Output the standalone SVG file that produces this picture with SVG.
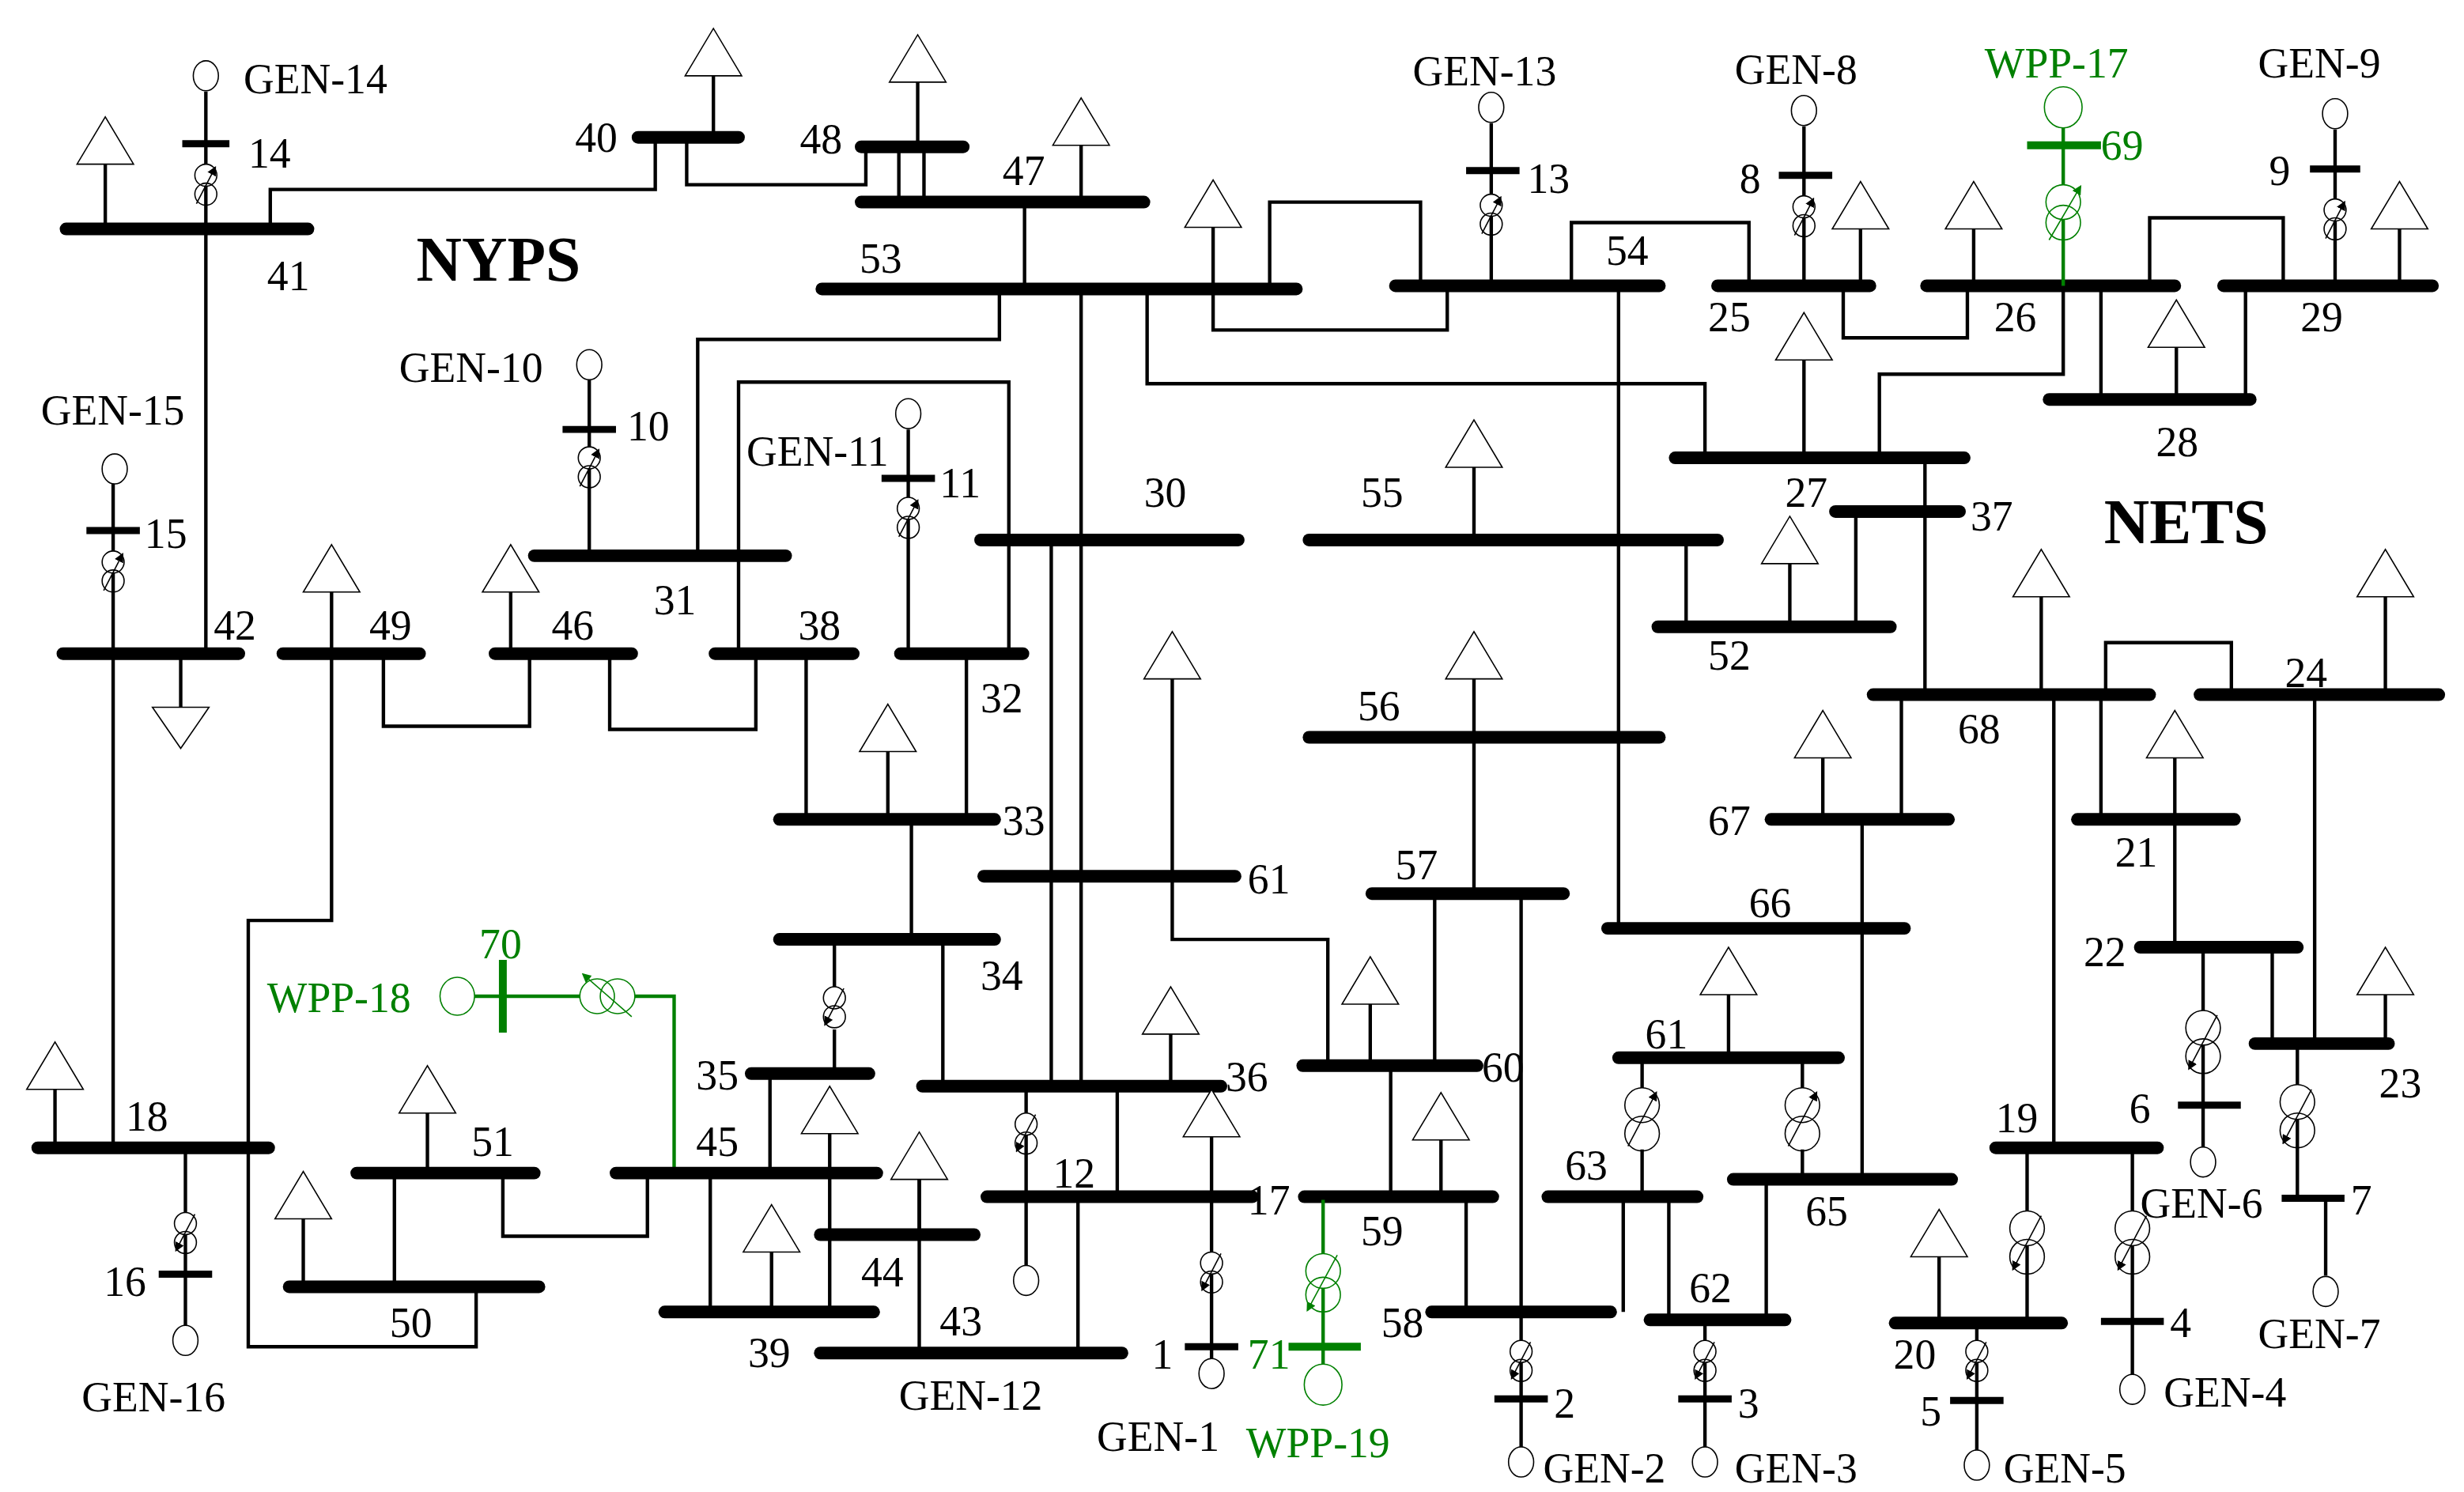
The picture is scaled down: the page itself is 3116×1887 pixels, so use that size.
<svg xmlns="http://www.w3.org/2000/svg" width="3116" height="1887" viewBox="0 0 3116 1887">
<style>
.b{stroke:#000;stroke-width:8;stroke-linecap:round}
.sb{stroke:#000;stroke-width:4.5}
.l{stroke:#000;stroke-width:2.2;fill:none}
.g{stroke:#008000;stroke-width:2.2;fill:none}
.gb{stroke:#008000;stroke-width:5}
text{font-family:"Liberation Serif","Times New Roman",serif;font-size:27px;fill:#000}
.gt{fill:#008000}
.big{font-size:40px;font-weight:bold}
</style>
<defs>
<marker id="ah" markerWidth="6" markerHeight="6" refX="5" refY="3" orient="auto" markerUnits="userSpaceOnUse"><path d="M0,0 L6,3 L0,6 z" fill="#000"/></marker>
<marker id="ahg" markerWidth="6" markerHeight="6" refX="5" refY="3" orient="auto" markerUnits="userSpaceOnUse"><path d="M0,0 L6,3 L0,6 z" fill="#008000"/></marker>
<g id="ld"><polygon points="-18,0 18,0 0,-30" fill="#fff" stroke="#000" stroke-width="0.8"/></g>
<g id="tx"><circle cx="0" cy="-6" r="7" fill="#fff" stroke="#000" stroke-width="0.8"/><circle cx="0" cy="6" r="7" fill="none" stroke="#000" stroke-width="0.8"/><line x1="-6" y1="12" x2="6" y2="-11" stroke="#000" stroke-width="0.8" marker-end="url(#ah)"/></g>
<g id="txd"><circle cx="0" cy="-6" r="7" fill="#fff" stroke="#000" stroke-width="0.8"/><circle cx="0" cy="6" r="7" fill="none" stroke="#000" stroke-width="0.8"/><line x1="6" y1="-12" x2="-6" y2="11" stroke="#000" stroke-width="0.8" marker-end="url(#ah)"/></g>
<g id="txL"><circle cx="0" cy="-9" r="11" fill="#fff" stroke="#000" stroke-width="0.8"/><circle cx="0" cy="9" r="11" fill="none" stroke="#000" stroke-width="0.8"/><line x1="-9" y1="17" x2="9" y2="-17" stroke="#000" stroke-width="0.8" marker-end="url(#ah)"/></g>
<g id="txLd"><circle cx="0" cy="-9" r="11" fill="#fff" stroke="#000" stroke-width="0.8"/><circle cx="0" cy="9" r="11" fill="none" stroke="#000" stroke-width="0.8"/><line x1="9" y1="-17" x2="-9" y2="17" stroke="#000" stroke-width="0.8" marker-end="url(#ah)"/></g>
<g id="gn"><ellipse cx="0" cy="0" rx="8" ry="9.5" fill="#fff" stroke="#000" stroke-width="0.8"/></g>
</defs>
<rect width="3116" height="1887" fill="#fff"/>
<g transform="scale(1.9872,1.9968)">
<g id="connectors">
<path class="l" d="M172,145 V120 H417 V87"/>
<path class="l" d="M437,87 V117 H551 V93"/>
<path class="l" d="M572,93 V128 M588,93 V128"/>
<path class="l" d="M652,128 V183"/>
<path class="l" d="M636,183 V215 H444 V352"/>
<path class="l" d="M688,183 V688 M669,342 V688"/>
<path class="l" d="M470,414 V242 H642 V414"/>
<path class="l" d="M730,183 V243 H1085 V290"/>
<path class="l" d="M772,183 V209 H921 V181"/>
<path class="l" d="M808,183 V128 H904 V181"/>
<path class="l" d="M1000,181 V141 H1113 V181"/>
<path class="l" d="M1030,181 V588"/>
<path class="l" d="M1173,181 V214 H1252 V181"/>
<path class="l" d="M1313,181 V237 H1196 V290"/>
<path class="l" d="M1225,290 V440"/>
<path class="l" d="M1181,324 V397"/>
<path class="l" d="M1337,181 V253 M1429,253 V181"/>
<path class="l" d="M1368,181 V138 H1453 V181"/>
<path class="l" d="M1073,342 V397"/>
<path class="l" d="M938,342 V296 M938,467 V566"/>
<path class="l" d="M746,430 V595 H845 V675"/>
<path class="l" d="M913,566 V675 M968,566 V831"/>
<path class="l" d="M885,675 V758 M933,758 V831"/>
<path class="l" d="M711,688 V758 M686,758 V857"/>
<path class="l" d="M1033,758 V831 M1062,758 V836"/>
<path class="l" d="M1124,747 V836 M1185,747 V519"/>
<path class="l" d="M1210,519 V440"/>
<path class="l" d="M1340,440 V407 H1420 V440"/>
<path class="l" d="M1337,440 V519 M1307,440 V727"/>
<path class="l" d="M1473,440 V661 M1384,519 V600 M1446,600 V661"/>
<path class="l" d="M131,145 V414 M72,414 V727"/>
<path class="l" d="M211,414 V583 H158 V853 H303 V815"/>
<path class="l" d="M244,414 V460 H337 V414"/>
<path class="l" d="M388,414 V462 H481 V414"/>
<path class="l" d="M513,414 V519 M615,414 V519"/>
<path class="l" d="M580,519 V595 M600,595 V688"/>
<path class="l" d="M490,680 V743 M452,743 V831 M528,743 V831"/>
<path class="l" d="M412,743 V783 H320 V743"/>
<path class="l" d="M251,743 V815 M585,747 V857"/>
<path class="l" d="M531,595 V625 M531,652 V680"/>
<path class="l" d="M1045,670 V690 M1045,728 V758 M1147,670 V690 M1147,728 V747"/>
<path class="g" d="M404,631 H429 V743"/>
</g>
<g id="bus41"><line class="b" x1="42" y1="145" x2="196" y2="145"/><line class="l" x1="67" y1="145" x2="67" y2="104"/><use href="#ld" x="67" y="104"/><text x="170" y="184">41</text></g>
<g id="gen14"><line class="l" x1="131" y1="58" x2="131" y2="145"/><line class="sb" x1="116" y1="91" x2="146" y2="91"/><use href="#tx" x="131" y="117"/><use href="#gn" x="131" y="48"/><text x="158" y="106">14</text><text x="155" y="59">GEN-14</text></g>
<g id="bus40"><line class="b" x1="406" y1="87" x2="470" y2="87"/><line class="l" x1="454" y1="87" x2="454" y2="48"/><use href="#ld" x="454" y="48"/><text x="366" y="96">40</text></g>
<g id="bus48"><line class="b" x1="548" y1="93" x2="613" y2="93"/><line class="l" x1="584" y1="93" x2="584" y2="52"/><use href="#ld" x="584" y="52"/><text x="509" y="97">48</text></g>
<g id="bus47"><line class="b" x1="548" y1="128" x2="728" y2="128"/><line class="l" x1="688" y1="128" x2="688" y2="92"/><use href="#ld" x="688" y="92"/><text x="638" y="117">47</text></g>
<g id="bus53"><line class="b" x1="523" y1="183" x2="825" y2="183"/><line class="l" x1="772" y1="183" x2="772" y2="144"/><use href="#ld" x="772" y="144"/><text x="547" y="173">53</text></g>
<g id="bus54"><line class="b" x1="888" y1="181" x2="1056" y2="181"/><text x="1022" y="168">54</text></g>
<g id="gen13"><line class="l" x1="949" y1="78" x2="949" y2="181"/><line class="sb" x1="933" y1="108" x2="967" y2="108"/><use href="#tx" x="949" y="136"/><use href="#gn" x="949" y="68"/><text x="972" y="122">13</text><text x="899" y="54">GEN-13</text></g>
<g id="bus25"><line class="b" x1="1093" y1="181" x2="1190" y2="181"/><line class="l" x1="1184" y1="181" x2="1184" y2="145"/><use href="#ld" x="1184" y="145"/><text x="1087" y="210">25</text></g>
<g id="gen8"><line class="l" x1="1148" y1="80" x2="1148" y2="181"/><line class="sb" x1="1132" y1="111" x2="1166" y2="111"/><use href="#tx" x="1148" y="137"/><use href="#gn" x="1148" y="70"/><text x="1107" y="122">8</text><text x="1104" y="53">GEN-8</text></g>
<g id="bus26"><line class="b" x1="1226" y1="181" x2="1384" y2="181"/><line class="l" x1="1256" y1="181" x2="1256" y2="145"/><use href="#ld" x="1256" y="145"/><text x="1269" y="210">26</text></g>
<g id="wpp17"><line class="g" x1="1313" y1="80" x2="1313" y2="181"/><line class="gb" x1="1290" y1="92" x2="1337" y2="92"/><circle cx="1313" cy="128" r="11" fill="#fff" stroke="#008000" stroke-width="0.8"/><circle cx="1313" cy="141" r="11" fill="none" stroke="#008000" stroke-width="0.8"/><line x1="1304" y1="152" x2="1324" y2="118" stroke="#008000" stroke-width="0.8" marker-end="url(#ahg)"/><ellipse cx="1313" cy="68" rx="12" ry="13" fill="#fff" stroke="#008000" stroke-width="0.8"/><text class="gt" x="1337" y="101">69</text><text class="gt" x="1263" y="49">WPP-17</text></g>
<g id="bus29"><line class="b" x1="1415" y1="181" x2="1548" y2="181"/><line class="l" x1="1527" y1="181" x2="1527" y2="145"/><use href="#ld" x="1527" y="145"/><text x="1464" y="210">29</text></g>
<g id="gen9"><line class="l" x1="1486" y1="82" x2="1486" y2="181"/><line class="sb" x1="1470" y1="107" x2="1502" y2="107"/><use href="#tx" x="1486" y="139"/><use href="#gn" x="1486" y="72"/><text x="1444" y="117">9</text><text x="1437" y="49">GEN-9</text></g>
<g id="bus28"><line class="b" x1="1304" y1="253" x2="1432" y2="253"/><line class="l" x1="1385" y1="253" x2="1385" y2="220"/><use href="#ld" x="1385" y="220"/><text x="1372" y="289">28</text></g>
<g id="bus27"><line class="b" x1="1066" y1="290" x2="1250" y2="290"/><line class="l" x1="1148" y1="290" x2="1148" y2="228"/><use href="#ld" x="1148" y="228"/><text x="1136" y="321">27</text></g>
<g id="bus37"><line class="b" x1="1168" y1="324" x2="1247" y2="324"/><text x="1254" y="336">37</text></g>
<g id="bus55"><line class="b" x1="833" y1="342" x2="1093" y2="342"/><use href="#ld" x="938" y="296"/><text x="866" y="321">55</text></g>
<g id="bus52"><line class="b" x1="1055" y1="397" x2="1203" y2="397"/><line class="l" x1="1139" y1="397" x2="1139" y2="357"/><use href="#ld" x="1139" y="357"/><text x="1087" y="424">52</text></g>
<g id="bus30"><line class="b" x1="624" y1="342" x2="788" y2="342"/><text x="728" y="321">30</text></g>
<g id="bus56"><line class="b" x1="833" y1="467" x2="1056" y2="467"/><line class="l" x1="938" y1="467" x2="938" y2="430"/><use href="#ld" x="938" y="430"/><text x="864" y="456">56</text></g>
<g id="bus61a"><line class="b" x1="626" y1="555" x2="786" y2="555"/><use href="#ld" x="746" y="430"/><text x="794" y="566">61</text></g>
<g id="bus57"><line class="b" x1="873" y1="566" x2="995" y2="566"/><text x="888" y="557">57</text></g>
<g id="bus60"><line class="b" x1="829" y1="675" x2="940" y2="675"/><line class="l" x1="872" y1="675" x2="872" y2="636"/><use href="#ld" x="872" y="636"/><text x="943" y="685">60</text></g>
<g id="bus59"><line class="b" x1="830" y1="758" x2="950" y2="758"/><line class="l" x1="917" y1="758" x2="917" y2="722"/><use href="#ld" x="917" y="722"/><text x="866" y="789">59</text></g>
<g id="bus36"><line class="b" x1="587" y1="688" x2="777" y2="688"/><line class="l" x1="745" y1="688" x2="745" y2="655"/><use href="#ld" x="745" y="655"/><text x="780" y="691">36</text></g>
<g id="gen12"><line class="l" x1="653" y1="688" x2="653" y2="802"/><use href="#txd" x="653" y="718"/><use href="#gn" x="653" y="811"/><text x="572" y="893">GEN-12</text></g>
<g id="bus12"><line class="b" x1="628" y1="758" x2="797" y2="758"/><text x="670" y="752">12</text><text x="794" y="769">17</text></g>
<g id="bus43"><line class="b" x1="522" y1="857" x2="714" y2="857"/><text x="598" y="846">43</text></g>
<g id="gen1"><line class="l" x1="771" y1="758" x2="771" y2="862"/><line class="l" x1="771" y1="758" x2="771" y2="720"/><use href="#ld" x="771" y="720"/><use href="#txd" x="771" y="806"/><line class="sb" x1="754" y1="853" x2="788" y2="853"/><use href="#gn" x="771" y="870"/><text x="733" y="867">1</text><text x="698" y="919">GEN-1</text></g>
<g id="wpp19"><line class="g" x1="842" y1="760" x2="842" y2="866"/><circle cx="842" cy="805" r="11" fill="#fff" stroke="#008000" stroke-width="0.8"/><circle cx="842" cy="820" r="11" fill="none" stroke="#008000" stroke-width="0.8"/><line x1="851" y1="795" x2="832" y2="830" stroke="#008000" stroke-width="0.8" marker-end="url(#ahg)"/><line class="gb" x1="820" y1="853" x2="866" y2="853"/><ellipse cx="842" cy="877" rx="12" ry="13" fill="#fff" stroke="#008000" stroke-width="0.8"/><text class="gt" x="794" y="867">71</text><text class="gt" x="793" y="923">WPP-19</text></g>
<g id="bus58"><line class="b" x1="911" y1="831" x2="1025" y2="831"/><text x="879" y="847">58</text></g>
<g id="gen2"><line class="l" x1="968" y1="831" x2="968" y2="918"/><use href="#txd" x="968" y="862"/><line class="sb" x1="951" y1="886" x2="985" y2="886"/><use href="#gn" x="968" y="926"/><text x="989" y="898">2</text><text x="982" y="939">GEN-2</text></g>
<g id="bus63"><line class="b" x1="985" y1="758" x2="1080" y2="758"/><use href="#txL" x="1045" y="709"/><text x="996" y="747">63</text></g>
<g id="bus61b"><line class="b" x1="1030" y1="670" x2="1170" y2="670"/><line class="l" x1="1100" y1="670" x2="1100" y2="630"/><use href="#ld" x="1100" y="630"/><text x="1047" y="664">61</text></g>
<g id="bus65"><line class="b" x1="1103" y1="747" x2="1242" y2="747"/><use href="#txL" x="1147" y="709"/><text x="1149" y="776">65</text></g>
<g id="bus62"><line class="b" x1="1050" y1="836" x2="1136" y2="836"/><text x="1075" y="825">62</text></g>
<g id="gen3"><line class="l" x1="1085" y1="836" x2="1085" y2="918"/><use href="#txd" x="1085" y="862"/><line class="sb" x1="1068" y1="886" x2="1102" y2="886"/><use href="#gn" x="1085" y="926"/><text x="1106" y="898">3</text><text x="1104" y="939">GEN-3</text></g>
<g id="bus66"><line class="b" x1="1023" y1="588" x2="1212" y2="588"/><text x="1113" y="581">66</text></g>
<g id="bus67"><line class="b" x1="1127" y1="519" x2="1240" y2="519"/><line class="l" x1="1160" y1="519" x2="1160" y2="480"/><use href="#ld" x="1160" y="480"/><text x="1087" y="529">67</text></g>
<g id="bus68"><line class="b" x1="1192" y1="440" x2="1368" y2="440"/><line class="l" x1="1299" y1="440" x2="1299" y2="378"/><use href="#ld" x="1299" y="378"/><text x="1246" y="471">68</text></g>
<g id="bus24"><line class="b" x1="1400" y1="440" x2="1552" y2="440"/><line class="l" x1="1518" y1="440" x2="1518" y2="378"/><use href="#ld" x="1518" y="378"/><text x="1454" y="435">24</text></g>
<g id="bus21"><line class="b" x1="1322" y1="519" x2="1422" y2="519"/><line class="l" x1="1384" y1="519" x2="1384" y2="480"/><use href="#ld" x="1384" y="480"/><text x="1346" y="549">21</text></g>
<g id="bus22"><line class="b" x1="1362" y1="600" x2="1462" y2="600"/><text x="1326" y="612">22</text></g>
<g id="gen6"><line class="l" x1="1402" y1="600" x2="1402" y2="727"/><use href="#txLd" x="1402" y="660"/><line class="sb" x1="1386" y1="700" x2="1426" y2="700"/><use href="#gn" x="1402" y="736"/><text x="1355" y="711">6</text><text x="1362" y="771">GEN-6</text></g>
<g id="bus23"><line class="b" x1="1435" y1="661" x2="1520" y2="661"/><line class="l" x1="1518" y1="661" x2="1518" y2="630"/><use href="#ld" x="1518" y="630"/><text x="1514" y="695">23</text></g>
<g id="gen7"><line class="l" x1="1462" y1="661" x2="1462" y2="759"/><use href="#txLd" x="1462" y="707"/><line class="sb" x1="1452" y1="759" x2="1492" y2="759"/><line class="l" x1="1480" y1="759" x2="1480" y2="808"/><use href="#gn" x="1480" y="818"/><text x="1496" y="769">7</text><text x="1437" y="854">GEN-7</text></g>
<g id="bus19"><line class="b" x1="1270" y1="727" x2="1373" y2="727"/><text x="1270" y="717">19</text></g>
<g id="bus20"><line class="b" x1="1206" y1="838" x2="1312" y2="838"/><line class="l" x1="1290" y1="727" x2="1290" y2="838"/><use href="#txLd" x="1290" y="787"/><line class="l" x1="1234" y1="838" x2="1234" y2="796"/><use href="#ld" x="1234" y="796"/><text x="1205" y="867">20</text></g>
<g id="gen4"><line class="l" x1="1357" y1="727" x2="1357" y2="871"/><use href="#txLd" x="1357" y="787"/><line class="sb" x1="1337" y1="837" x2="1377" y2="837"/><use href="#gn" x="1357" y="880"/><text x="1381" y="847">4</text><text x="1377" y="891">GEN-4</text></g>
<g id="gen5"><line class="l" x1="1258" y1="838" x2="1258" y2="919"/><use href="#txd" x="1258" y="862"/><line class="sb" x1="1241" y1="887" x2="1275" y2="887"/><use href="#gn" x="1258" y="928"/><text x="1222" y="903">5</text><text x="1275" y="939">GEN-5</text></g>
<g id="bus42"><line class="b" x1="40" y1="414" x2="152" y2="414"/><line class="l" x1="115" y1="414" x2="115" y2="448"/><polygon points="97,448 133,448 115,474" fill="#fff" stroke="#000" stroke-width="0.8"/><text x="136" y="405">42</text></g>
<g id="gen15"><line class="l" x1="72" y1="306" x2="72" y2="414"/><line class="sb" x1="55" y1="336" x2="89" y2="336"/><use href="#tx" x="72" y="362"/><use href="#gn" x="73" y="297"/><text x="92" y="347">15</text><text x="26" y="269">GEN-15</text></g>
<g id="bus49"><line class="b" x1="180" y1="414" x2="267" y2="414"/><line class="l" x1="211" y1="414" x2="211" y2="375"/><use href="#ld" x="211" y="375"/><text x="235" y="405">49</text></g>
<g id="bus46"><line class="b" x1="315" y1="414" x2="402" y2="414"/><line class="l" x1="325" y1="414" x2="325" y2="375"/><use href="#ld" x="325" y="375"/><text x="351" y="405">46</text></g>
<g id="bus38"><line class="b" x1="455" y1="414" x2="543" y2="414"/><text x="508" y="405">38</text></g>
<g id="bus31"><line class="b" x1="340" y1="352" x2="500" y2="352"/><text x="416" y="389">31</text></g>
<g id="gen10"><line class="l" x1="375" y1="240" x2="375" y2="352"/><line class="sb" x1="358" y1="272" x2="392" y2="272"/><use href="#tx" x="375" y="296"/><use href="#gn" x="375" y="231"/><text x="399" y="279">10</text><text x="254" y="242">GEN-10</text></g>
<g id="bus32"><line class="b" x1="573" y1="414" x2="651" y2="414"/><text x="624" y="451">32</text></g>
<g id="gen11"><line class="l" x1="578" y1="272" x2="578" y2="414"/><line class="sb" x1="561" y1="303" x2="595" y2="303"/><use href="#tx" x="578" y="328"/><use href="#gn" x="578" y="262"/><text x="598" y="315">11</text><text x="475" y="295">GEN-11</text></g>
<g id="bus33"><line class="b" x1="496" y1="519" x2="633" y2="519"/><line class="l" x1="565" y1="519" x2="565" y2="476"/><use href="#ld" x="565" y="476"/><text x="638" y="529">33</text></g>
<g id="bus34"><line class="b" x1="496" y1="595" x2="633" y2="595"/><use href="#txd" x="531" y="638"/><text x="624" y="627">34</text></g>
<g id="bus35"><line class="b" x1="478" y1="680" x2="553" y2="680"/><text x="443" y="690">35</text></g>
<g id="bus45"><line class="b" x1="392" y1="743" x2="558" y2="743"/><line class="l" x1="528" y1="743" x2="528" y2="718"/><use href="#ld" x="528" y="718"/><text x="443" y="732">45</text></g>
<g id="bus44"><line class="b" x1="522" y1="782" x2="620" y2="782"/><line class="l" x1="585" y1="782" x2="585" y2="747"/><use href="#ld" x="585" y="747"/><text x="548" y="815">44</text></g>
<g id="bus39"><line class="b" x1="423" y1="831" x2="556" y2="831"/><line class="l" x1="491" y1="831" x2="491" y2="793"/><use href="#ld" x="491" y="793"/><text x="476" y="866">39</text></g>
<g id="bus51"><line class="b" x1="227" y1="743" x2="340" y2="743"/><line class="l" x1="272" y1="743" x2="272" y2="705"/><use href="#ld" x="272" y="705"/><text x="300" y="732">51</text></g>
<g id="bus50"><line class="b" x1="184" y1="815" x2="343" y2="815"/><line class="l" x1="193" y1="815" x2="193" y2="772"/><use href="#ld" x="193" y="772"/><text x="248" y="847">50</text></g>
<g id="bus18"><line class="b" x1="24" y1="727" x2="171" y2="727"/><line class="l" x1="35" y1="727" x2="35" y2="690"/><use href="#ld" x="35" y="690"/><text x="80" y="716">18</text></g>
<g id="gen16"><line class="l" x1="118" y1="727" x2="118" y2="840"/><use href="#txd" x="118" y="781"/><line class="sb" x1="101" y1="807" x2="135" y2="807"/><use href="#gn" x="118" y="849"/><text x="66" y="821">16</text><text x="52" y="894">GEN-16</text></g>
<g id="wpp18"><line class="g" x1="302" y1="631" x2="370" y2="631"/><line class="gb" x1="320" y1="608" x2="320" y2="654"/><ellipse cx="291" cy="631" rx="11" ry="12" fill="#fff" stroke="#008000" stroke-width="0.8"/><circle cx="380" cy="631" r="11" fill="#fff" stroke="#008000" stroke-width="0.8"/><circle cx="393" cy="631" r="11" fill="none" stroke="#008000" stroke-width="0.8"/><line x1="402" y1="644" x2="371" y2="617" stroke="#008000" stroke-width="0.8" marker-end="url(#ahg)"/><text class="gt" x="305" y="607">70</text><text class="gt" x="170" y="641">WPP-18</text></g>
<text class="big" x="265" y="178">NYPS</text>
<text class="big" x="1339" y="344">NETS</text>
</g>
</svg>
